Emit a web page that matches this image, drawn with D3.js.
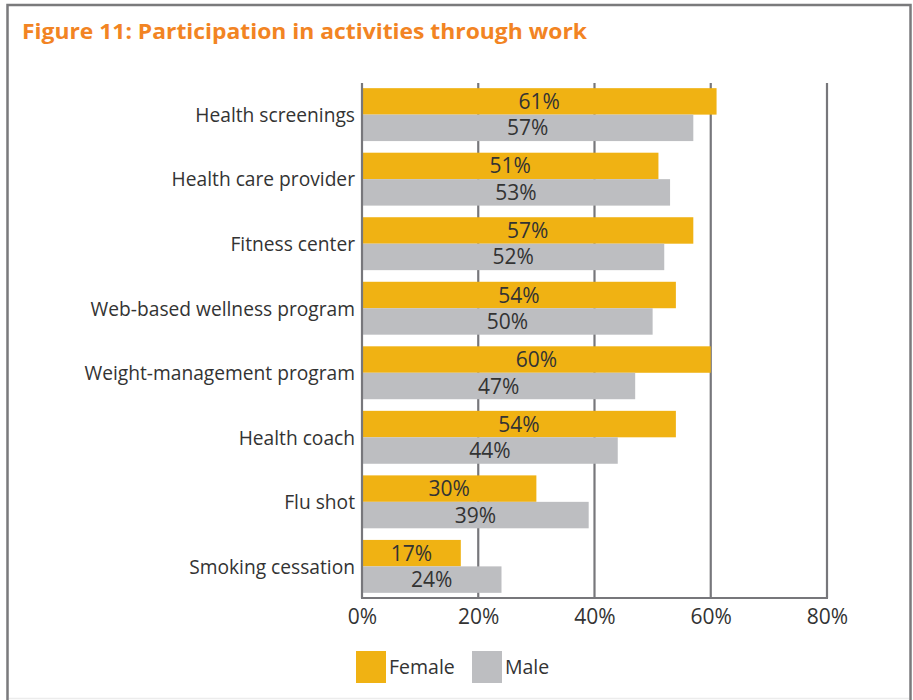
<!DOCTYPE html>
<html>
<head>
<meta charset="utf-8">
<script src="https://cdn.jsdelivr.net/npm/d3@7"></script>
<style>
  html, body { margin: 0; padding: 0; background: #fff; }
  svg { display: block; }
  text { font-family: "Open Sans", "Noto Sans", sans-serif; }
</style>
</head>
<body>
<svg id="chart" width="913" height="700"></svg>
<script>
// Participation in activities through work, by gender (percent)
const categories = [
  "Health screenings",
  "Health care provider",
  "Fitness center",
  "Web-based wellness program",
  "Weight-management program",
  "Health coach",
  "Flu shot",
  "Smoking cessation"
];
const femaleValues = [61, 51, 57, 54, 60, 54, 30, 17];
const maleValues   = [57, 53, 52, 50, 47, 44, 39, 24];
const seriesNames = ["Female", "Male"];
const seriesColors = ["#F0B213", "#BDBEC1"];
const xTicks = [0, 20, 40, 60, 80];
const titleText = "Figure 11: Participation in activities through work";

const svg = d3.select("#chart");

// outer frame (open at the bottom, with a faint rule)
svg.append("rect")
  .attr("x", 7.5).attr("y", 5).attr("width", 903).attr("height", 700)
  .attr("fill", "none").attr("stroke", "#7a7a7c").attr("stroke-width", 2.5);
svg.append("line")
  .attr("x1", 9).attr("x2", 909).attr("y1", 698.5).attr("y2", 698.5)
  .attr("stroke", "#ececec").attr("stroke-width", 1.5);

svg.append("text")
  .attr("x", 22).attr("y", 39)
  .attr("fill", "#F28423")
  .attr("font-size", 22).attr("font-weight", 700)
  .attr("textLength", 565).attr("lengthAdjust", "spacingAndGlyphs")
  .text(titleText);

const margin = { left: 362, right: 86, top: 83, bottom: 102 };
const width = 913 - margin.left - margin.right;
const height = 700 - margin.top - margin.bottom;

const g = svg.append("g").attr("transform", `translate(${margin.left},${margin.top})`);

const x = d3.scaleLinear().domain([0, 80]).range([0, width]);
const y = d3.scaleBand().domain(categories).range([0, height])
  .paddingInner(0.18).paddingOuter(0.08);
const sub = d3.scaleBand().domain(seriesNames).range([0, y.bandwidth()]);

const rows = categories.map((c, i) => ({ cat: c, vals: [femaleValues[i], maleValues[i]] }));

// gridlines sit behind the bars
g.selectAll("line.grid").data(xTicks.filter(t => t > 0)).join("line")
  .attr("class", "grid")
  .attr("x1", d => x(d)).attr("x2", d => x(d))
  .attr("y1", 0).attr("y2", height)
  .attr("stroke", "#77777b").attr("stroke-width", 2.2);

// bars
const rowG = g.selectAll("g.row").data(rows).join("g")
  .attr("class", "row")
  .attr("transform", d => `translate(0,${y(d.cat)})`);

rowG.selectAll("rect").data(d => d.vals.map((v, j) => ({ v, s: seriesNames[j], j })))
  .join("rect")
  .attr("x", 0)
  .attr("y", d => sub(d.s))
  .attr("width", d => x(d.v))
  .attr("height", sub.bandwidth())
  .attr("fill", d => seriesColors[d.j]);

rowG.selectAll("text.val").data(d => d.vals.map((v, j) => ({ v, s: seriesNames[j], j })))
  .join("text")
  .attr("class", "val")
  .attr("x", d => x(d.v) / 2)
  .attr("y", d => sub(d.s) + sub.bandwidth() / 2)
  .attr("dy", "0.36em")
  .attr("text-anchor", "middle")
  .attr("font-size", 21)
  .attr("fill", "#333")
  .text(d => d.v + "%");

// axis lines
g.append("line").attr("x1", 0).attr("x2", 0).attr("y1", 0).attr("y2", height)
  .attr("stroke", "#77777b").attr("stroke-width", 2.2);
g.append("line").attr("x1", -1).attr("x2", width + 1).attr("y1", height).attr("y2", height)
  .attr("stroke", "#77777b").attr("stroke-width", 2.2);

// x tick labels
const xAxis = g.append("g").attr("transform", `translate(0,${height})`)
  .call(d3.axisBottom(x).tickValues(xTicks).tickFormat(d => d + "%").tickSize(0).tickPadding(11));
xAxis.select(".domain").remove();
xAxis.selectAll("text").attr("font-size", 21).attr("fill", "#333")
  .style("font-family", "'Open Sans', sans-serif");

// category labels
const yAxis = g.append("g")
  .call(d3.axisLeft(y).tickSize(0).tickPadding(7));
yAxis.select(".domain").remove();
yAxis.selectAll("text").attr("font-size", 19.2).attr("fill", "#333")
  .attr("dy", "0.38em")
  .style("font-family", "'Open Sans', sans-serif");

// legend
const legend = svg.append("g").attr("transform", "translate(356,651)");
const items = legend.selectAll("g").data(seriesNames).join("g")
  .attr("transform", (d, i) => `translate(${i * 116},0)`);
items.append("rect").attr("width", 30).attr("height", 32)
  .attr("fill", (d, i) => seriesColors[i]);
items.append("text").attr("x", 33).attr("y", 16).attr("dy", "0.36em")
  .attr("font-size", 19.5).attr("fill", "#333").text(d => d);
</script>
</body>
</html>
